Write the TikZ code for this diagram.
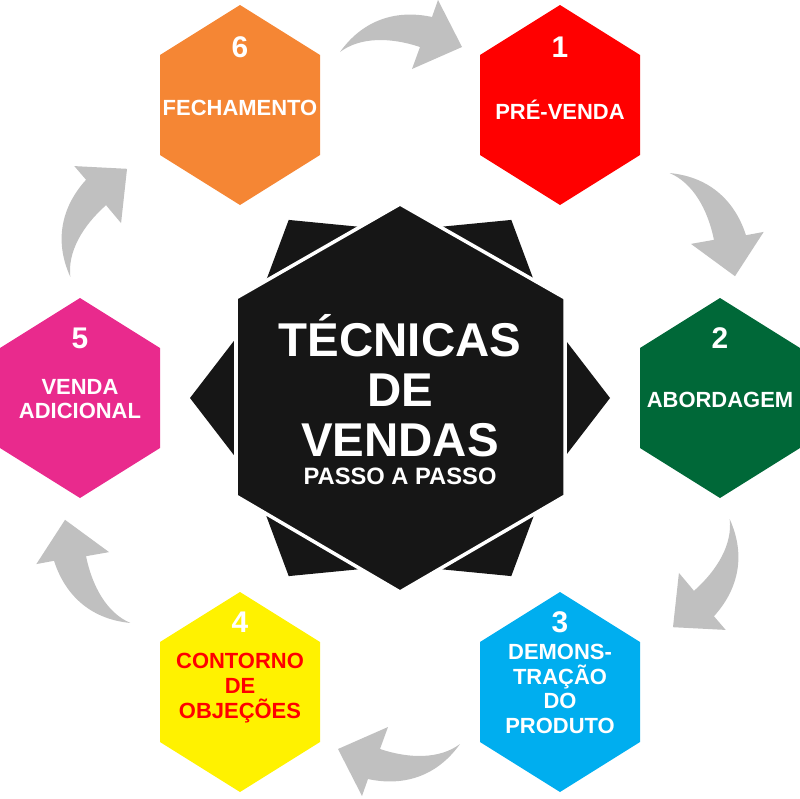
\documentclass[tikz,border=0pt]{standalone}
\usepackage{fontspec}
\setmainfont{Liberation Sans}
\usetikzlibrary{calc}
\definecolor{fechcor}{RGB}{245,134,52}
\definecolor{precor}{RGB}{255,0,0}
\definecolor{abocor}{RGB}{0,104,56}
\definecolor{democor}{RGB}{0,174,239}
\definecolor{contcor}{RGB}{255,242,0}
\definecolor{vendcor}{RGB}{233,42,141}
\definecolor{setacor}{RGB}{192,192,192}
\definecolor{centrocor}{RGB}{22,22,22}
\newcommand{\hexa}[3]{\fill[#3] (#1,#2) ++(0,-100) -- ++(80,50) -- ++(0,100) -- ++(-80,50) -- ++(-80,-50) -- ++(0,-100) -- cycle;}
\tikzset{
  numero/.style={text=white, font=\fontsize{17}{17}\selectfont\bfseries},
  rotulo/.style={text=white, align=center, font=\fontsize{12.5}{14}\selectfont\bfseries},
  ponta/.style={fill=centrocor},
}
\begin{document}
\begin{tikzpicture}[x=0.02cm, y=-0.02cm]
			\useasboundingbox (0,0) rectangle (800,798);
			% setas cinzas
			\foreach \a in {0,-60,-120,-180,-240,-300}{
				\begin{scope}[shift={(400,398)}, rotate=\a, shift={(0,-356)}]
					\fill[setacor] (-60,10) .. controls (-35,-25) and (0,-32) .. (32,-25) -- (38,-42) -- (62,5) -- (12,27) -- (20,5) .. controls (-10,-5) and (-40,-5) .. (-60,10) -- cycle;
				\end{scope}
			}
			% hexagonos
			\hexa{240}{105}{fechcor}
			\hexa{560}{105}{precor}
			\hexa{720}{398}{abocor}
			\hexa{560}{692}{democor}
			\hexa{240}{692}{contcor}
			\hexa{80}{398}{vendcor}
			% centro
			\coordinate (meio) at (400,398);
			\foreach \a in {0,58,122,180,238,302}{
				\fill[ponta] ($(meio)+(-\a:210)$) -- ($(meio)+(-\a:150)+(-\a+90:78)$) -- ($(meio)+(-\a:150)+(-\a-90:78)$) -- cycle;
			}
			\draw[fill=centrocor, draw=white, line width=2pt] (400,204) -- (565,298) -- (565,496) -- (400,592) -- (236,496) -- (236,298) -- cycle;
			\node[text=white, align=center, font=\fontsize{27}{28.5}\selectfont\bfseries] (titulo) at (400,386) {TÉCNICAS\\DE\\VENDAS};
			\node[text=white, font=\fontsize{13.5}{14}\selectfont\bfseries] (passo) at (400,476) {PASSO A PASSO};
			% textos
			\node[numero] (n6) at (240,47) {6};
			\node[rotulo] (r6) at (240,108) {FECHAMENTO};
			\node[numero] (n1) at (560,47) {1};
			\node[rotulo] (r1) at (560,110) {PRÉ-VENDA};
			\node[numero] (n2) at (720,338) {2};
			\node[rotulo] (r2) at (720,400) {ABORDAGEM};
			\node[numero] (n3) at (560,622) {3};
			\node[rotulo] (r3) at (560,689) {DEMONS-\\TRAÇÃO\\DO\\PRODUTO};
			\node[numero] (n4) at (240,622) {4};
			\node[rotulo, text=precor] (r4) at (240,688) {CONTORNO\\DE\\OBJEÇÕES};
			\node[numero] (n5) at (80,338) {5};
			\node[rotulo] (r5) at (80,399) {VENDA\\ADICIONAL};
		\end{tikzpicture}
\end{document}
